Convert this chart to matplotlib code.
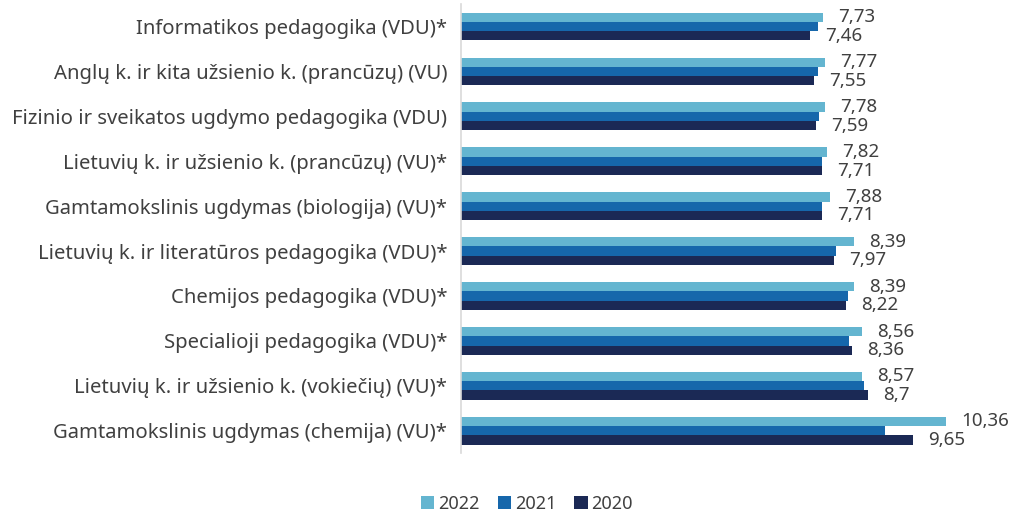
import numpy as np
import matplotlib.pyplot as plt

plt.rcParams['font.family'] = ['Noto Sans', 'DejaVu Sans']
plt.rcParams['font.size'] = 13

categories = [
    'Informatikos pedagogika (VDU)*',
    'Anglų k. ir kita užsienio k. (prancūzų) (VU)',
    'Fizinio ir sveikatos ugdymo pedagogika (VDU)',
    'Lietuvių k. ir užsienio k. (prancūzų) (VU)*',
    'Gamtamokslinis ugdymas (biologija) (VU)*',
    'Lietuvių k. ir literatūros pedagogika (VDU)*',
    'Chemijos pedagogika (VDU)*',
    'Specialioji pedagogika (VDU)*',
    'Lietuvių k. ir užsienio k. (vokiečių) (VU)*',
    'Gamtamokslinis ugdymas (chemija) (VU)*',
]
v2022 = [7.73, 7.77, 7.78, 7.82, 7.88, 8.39, 8.39, 8.56, 8.57, 10.36]
v2021 = [7.62, 7.63, 7.66, 7.72, 7.72, 8.01, 8.27, 8.30, 8.62, 9.07]
v2020 = [7.46, 7.55, 7.59, 7.71, 7.71, 7.97, 8.22, 8.36, 8.70, 9.65]

series = [('2022', v2022, '#64B5D0'), ('2021', v2021, '#1667AB'), ('2020', v2020, '#1B2955')]
labelled = ['2022', '2020']

fig = plt.figure(figsize=(10.17, 5.12), dpi=100)
ax = fig.add_axes([0.4533, 0.115, 0.53, 0.877])

y = np.arange(len(categories))
h = 0.207
txt = '#404040'
for i, (name, vals, col) in enumerate(series):
    pos = y + (i - 1) * h
    ax.barh(pos, vals, height=h, color=col, label=name)
    if name in labelled:
        for p, v in zip(pos, vals):
            ax.annotate(f'{v:g}'.replace('.', ','), (v, p), xytext=(11, 0),
                        textcoords='offset points', va='center', ha='left',
                        color=txt, fontsize=13.5, annotation_clip=False)

ax.set_xlim(0, 11.52)
ax.set_ylim(9.5, -0.5)
ax.set_yticks(y)
ax.set_yticklabels(categories, color=txt, fontsize=14.6)
ax.tick_params(axis='y', length=0, pad=10)
ax.set_xticks([])
for s in ['top', 'right', 'bottom']:
    ax.spines[s].set_visible(False)
ax.spines['left'].set_color('#d9d9d9')
ax.spines['left'].set_linewidth(1.2)

fig.legend(loc='center', bbox_to_anchor=(0.518, 0.016), ncol=3, frameon=False,
           handlelength=0.75, handleheight=0.75, handletextpad=0.2, columnspacing=1.0,
           labelcolor=txt, fontsize=13)

fig.savefig('out.png', dpi=100)
